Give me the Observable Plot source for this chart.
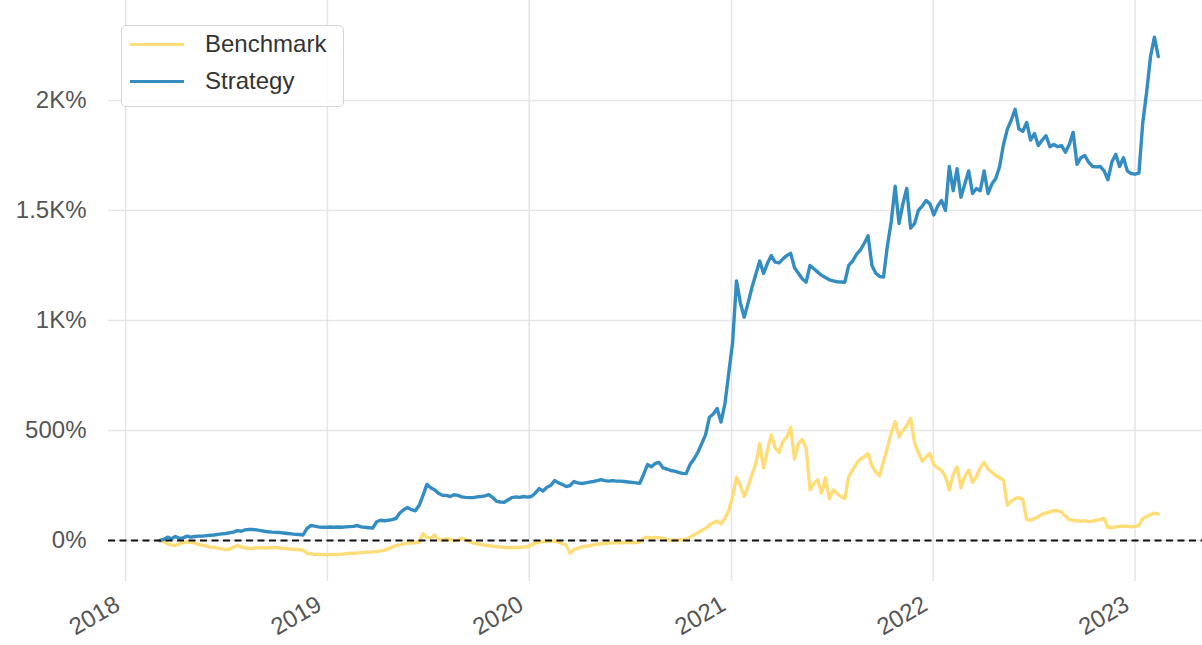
<!DOCTYPE html>
<html><head><meta charset="utf-8">
<script src="https://cdn.jsdelivr.net/npm/d3@7"></script>
<script src="https://cdn.jsdelivr.net/npm/@observablehq/plot@0.6"></script>
<style>
body{margin:0;background:#fff;}
#wrap{position:relative;width:1202px;height:645px;font-family:"Liberation Sans",Arial,sans-serif;}
#legend{position:absolute;left:121px;top:25px;width:223px;height:82px;border:1.5px solid #d4d4d4;border-radius:5px;background:rgba(255,255,255,0.85);box-sizing:border-box;}
.row{position:absolute;left:8px;height:30px;display:flex;align-items:center;font-size:24px;color:#333;}
.sw{width:54px;height:3px;margin-right:21px;}
</style></head>
<body><div id="wrap"></div>
<script>
// weekly observations starting at this date
const startDate = "2018-03-04";
const seriesNames = ["Benchmark", "Strategy"];
const seriesColors = ["#FEDD78", "#348DC1"];
const yTicks = [0, 500, 1000, 1500, 2000];
const yTickLabels = ["0%", "500%", "1K%", "1.5K%", "2K%"];
const xTickYears = ["2018", "2019", "2020", "2021", "2022", "2023"];

// cumulative returns, percent
const strategy = [
  0, 5, 15, 8, 18, 10, 12, 20, 15, 18,
  20, 20, 22, 24, 25, 28, 30, 32, 35, 38,
  45, 42, 48, 50, 50, 48, 45, 42, 40, 38,
  37, 36, 34, 32, 30, 28, 27, 25, 55, 68,
  65, 62, 60, 60, 61, 60, 61, 60, 62, 63,
  64, 68, 62, 60, 58, 56, 85, 92, 90, 92,
  95, 100, 125, 140, 150, 140, 135, 160, 205, 255,
  240, 230, 215, 205, 205, 200, 208, 205, 198, 196,
  195, 195, 198, 200, 203, 208, 195, 178, 175, 174,
  185, 195, 198, 196, 200, 197, 200, 215, 236, 225,
  242, 250, 273, 262, 255, 245, 250, 268, 262, 259,
  262, 265, 268, 272, 277, 272, 270, 272, 270, 270,
  268, 266, 264, 262, 260, 300, 345, 335, 350, 355,
  330, 325, 318, 315, 310, 305, 304, 345, 370, 400,
  440, 480, 560, 575, 600, 538, 620, 760, 900, 1180,
  1080, 1015, 1080, 1150, 1210, 1270, 1214, 1260, 1295, 1265,
  1262, 1280, 1295, 1305, 1240, 1215, 1190, 1174, 1250, 1235,
  1220, 1205, 1195, 1185, 1180, 1176, 1175, 1174, 1250, 1270,
  1300, 1320, 1350, 1385, 1250, 1215, 1200, 1197, 1340, 1450,
  1610, 1441, 1530, 1600, 1420, 1440, 1500, 1520, 1545, 1530,
  1480, 1520, 1545, 1500, 1700, 1590, 1690, 1560, 1620, 1680,
  1577, 1600, 1590, 1680, 1577, 1620, 1645, 1700, 1800, 1870,
  1910, 1960, 1870, 1860, 1900, 1820, 1850, 1795, 1820, 1840,
  1790, 1800, 1790, 1795, 1765, 1800, 1855, 1710, 1740, 1750,
  1720, 1700, 1698, 1700, 1680, 1640, 1720, 1755, 1700, 1740,
  1680, 1668, 1665, 1670, 1900, 2040, 2200, 2288, 2200
];

const benchmark = [
  0, -5, -15, -20, -23, -15, -10, -8, -8, -12,
  -18, -22, -25, -30, -32, -35, -38, -41, -40, -30,
  -23, -28, -33, -36, -35, -33, -32, -34, -33, -32,
  -32, -34, -36, -38, -40, -41, -41, -45, -58, -60,
  -64, -62, -64, -65, -64, -64, -63, -62, -60, -58,
  -58, -57, -55, -53, -53, -52, -50, -47, -45, -38,
  -30, -23, -20, -15, -12, -12, -10, -8, 30, 15,
  10, 25, 5, 2, 8, 5, -2, 2, 10, 5,
  -5, -12, -15, -18, -22, -23, -26, -28, -30, -32,
  -32, -33, -31, -32, -30, -28, -20, -12, -8, -5,
  -3, -4, -2, -8, -15, -20, -58, -42, -36, -30,
  -26, -24, -20, -16, -15, -14, -12, -11, -10, -10,
  -9, -8, -10, -8, -7, 10, 15, 12, 14, 12,
  10, 5, 0, 2, 3, 3, 5, 15, 25, 35,
  45, 55, 70, 80, 88, 76, 100, 136, 200, 288,
  250, 200, 245, 300, 350, 440, 330, 410, 480, 420,
  400, 450, 470, 515, 370, 440, 460, 420, 230, 260,
  275, 215, 285, 190, 230, 215, 200, 190, 290, 320,
  350, 370, 380, 395, 340, 310, 295, 360, 420, 490,
  540, 470, 500, 520, 555, 445, 400, 360, 380, 395,
  345, 330, 318, 290, 230, 300, 333, 240, 290, 320,
  265, 290, 330, 355, 325, 310, 295, 285, 273, 160,
  180, 190, 195, 185, 95, 92, 100, 108, 120, 125,
  130, 136, 135, 130, 110, 95, 92, 90, 88, 90,
  86, 88, 92, 95, 100, 60, 58, 62, 64, 66,
  64, 62, 64, 68, 100, 108, 118, 124, 120
];

const start = new Date(startDate + "T00:00:00Z");
const dates = strategy.map((_, i) => d3.utcDay.offset(start, 7 * i));
const rows = [];
[benchmark, strategy].forEach((vals, s) => {
  vals.forEach((v, i) => rows.push({date: dates[i], value: v, series: seriesNames[s]}));
});
const xTicks = xTickYears.map(y => new Date(y + "-01-01T00:00:00Z"));
const yLabel = new Map(yTicks.map((t, i) => [t, yTickLabels[i]]));

const chart = Plot.plot({
  width: 1202, height: 645,
  marginLeft: 108, marginRight: 0, marginTop: 0, marginBottom: 64,
  style: {fontFamily: "'Liberation Sans', Arial, sans-serif", fontSize: "24px", background: "white", color: "#555"},
  x: {type: "utc", domain: [new Date("2017-12-01T00:00:00Z"), new Date("2023-05-03T00:00:00Z")], label: null},
  y: {domain: [-186.4, 2454.5], label: null},
  color: {domain: seriesNames, range: seriesColors},
  marks: [
    Plot.gridX(xTicks, {stroke: "#e5e5e5", strokeOpacity: 1, strokeWidth: 1.5}),
    Plot.gridY(yTicks, {stroke: "#e5e5e5", strokeOpacity: 1, strokeWidth: 1.5}),
    Plot.axisY(yTicks, {tickSize: 0, tickPadding: 22, fontSize: 24, fill: "#555", label: null, tickFormat: d => yLabel.get(d)}),
    Plot.axisX(xTicks, {tickSize: 0, tickPadding: 21, tickRotate: -30, fontSize: 24, fill: "#555", dx: -8, label: null, tickFormat: d => String(d.getUTCFullYear())}),
    Plot.lineY(rows, {x: "date", y: "value", stroke: "series", z: "series", strokeWidth: 3.4}),
    Plot.ruleY([0], {stroke: "#111", strokeWidth: 2, strokeDasharray: "7,4.5"})
  ]
});

const wrap = document.getElementById("wrap");
wrap.appendChild(chart);
const legend = document.createElement("div");
legend.id = "legend";
seriesNames.forEach((name, i) => {
  const row = document.createElement("div");
  row.className = "row";
  row.style.top = (i === 0 ? 3 : 40) + "px";
  const sw = document.createElement("div");
  sw.className = "sw";
  sw.style.background = seriesColors[i];
  const label = document.createElement("span");
  label.textContent = name;
  row.appendChild(sw);
  row.appendChild(label);
  legend.appendChild(row);
});
wrap.appendChild(legend);
</script>
</body></html>
